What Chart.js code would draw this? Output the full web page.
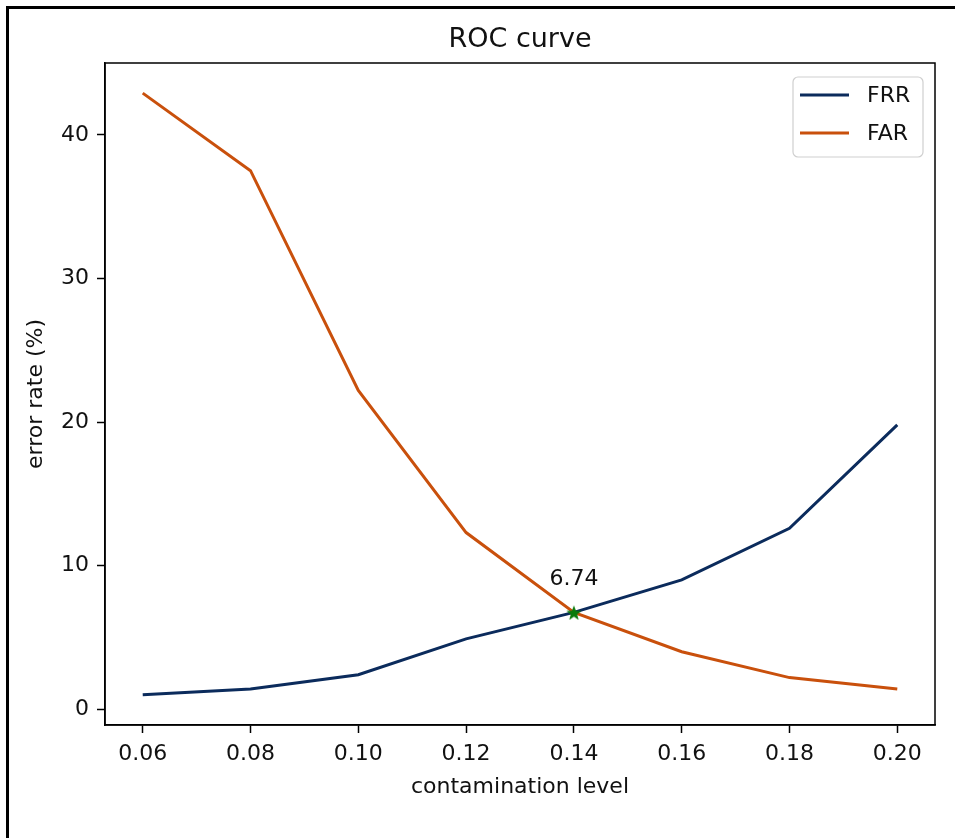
<!DOCTYPE html>
<html>
<head>
<meta charset="utf-8">
<script src="https://cdn.jsdelivr.net/npm/chart.js@4/dist/chart.umd.min.js"></script>
<style>
  body { margin: 0; background: #fff; }
  .wrap { position: relative; width: 955px; height: 838px; }
  .frame {
    position: absolute; left: 6px; top: 6px; right: 0; bottom: 0;
    border-top: 3px solid #000; border-left: 3px solid #000;
    pointer-events: none;
  }
</style>
</head>
<body>
<div class="wrap">
  <canvas id="rocChart" width="955" height="838"></canvas>
  <div class="frame"></div>
</div>
<script>
const levels = [0.06, 0.08, 0.10, 0.12, 0.14, 0.16, 0.18, 0.20];
const frr = [1.0, 1.4, 2.4, 4.9, 6.74, 9.0, 12.6, 19.8];
const far = [42.9, 37.5, 22.2, 12.3, 6.74, 4.0, 2.2, 1.4];
const eer = { x: 0.14, y: 6.74 };
const xTicks = [0.06, 0.08, 0.10, 0.12, 0.14, 0.16, 0.18, 0.20];
const yTicks = [0, 10, 20, 30, 40];

const FONT = "'DejaVu Sans', sans-serif";
const TXT = "#111";

// filled star for the crossing point
function makeStar(size, color) {
  const c = document.createElement("canvas");
  c.width = size;
  c.height = size;
  const g = c.getContext("2d");
  const r = size / 2, r2 = r * 0.42;
  g.beginPath();
  for (let i = 0; i < 10; i++) {
    const a = -Math.PI / 2 + (i * Math.PI) / 5;
    const rr = i % 2 === 0 ? r : r2;
    g.lineTo(r + rr * Math.cos(a), r + 1 + rr * Math.sin(a));
  }
  g.closePath();
  g.fillStyle = color;
  g.fill();
  return c;
}

const boxPlugin = {
  id: "plotbox",
  afterDraw(chart) {
    const { ctx, chartArea: { top, bottom, left, right } } = chart;
    ctx.save();
    ctx.strokeStyle = "#000";
    ctx.lineWidth = 1.5;
    ctx.strokeRect(left, top, right - left, bottom - top);

    // title, centred over the plot like matplotlib
    ctx.font = `27px ${FONT}`;
    ctx.fillStyle = TXT;
    ctx.textAlign = "center";
    ctx.textBaseline = "middle";
    ctx.fillText("ROC curve", (left + right) / 2, 40);

    // value label above the crossing point
    const px = chart.scales.x.getPixelForValue(eer.x);
    const py = chart.scales.y.getPixelForValue(eer.y);
    ctx.font = `22px ${FONT}`;
    ctx.fillText(eer.y.toFixed(2), px, py - 33);

    // legend
    const lx = 793, ly = 77, lw = 130, lh = 80;
    ctx.beginPath();
    ctx.roundRect(lx, ly, lw, lh, 5);
    ctx.fillStyle = "rgba(255,255,255,0.8)";
    ctx.fill();
    ctx.strokeStyle = "#cfcfcf";
    ctx.lineWidth = 1.2;
    ctx.stroke();
    chart.data.datasets.slice(0, 2).forEach((ds, i) => {
      const y = 95 + i * 38;
      ctx.beginPath();
      ctx.moveTo(800, y);
      ctx.lineTo(849, y);
      ctx.strokeStyle = ds.borderColor;
      ctx.lineWidth = 3;
      ctx.stroke();
      ctx.fillStyle = TXT;
      ctx.textAlign = "left";
      ctx.fillText(ds.label, 867, y + 1);
    });
    ctx.restore();
  },
};

const ctx = document.getElementById("rocChart").getContext("2d");
const rocChart = new Chart(ctx, {
  type: "line",
  data: {
    datasets: [
      {
        label: "FRR",
        data: levels.map((x, i) => ({ x: x, y: frr[i] })),
        borderColor: "#0b2b5c",
        borderWidth: 3,
        pointRadius: 0,
        tension: 0,
      },
      {
        label: "FAR",
        data: levels.map((x, i) => ({ x: x, y: far[i] })),
        borderColor: "#c9500c",
        borderWidth: 3,
        pointRadius: 0,
        tension: 0,
      },
      {
        label: "EER",
        data: [eer],
        showLine: false,
        order: -1,
        pointStyle: makeStar(16, "#0a7a0a"),
        pointRadius: 8,
      },
    ],
  },
  options: {
    responsive: false,
    animation: false,
    layout: { padding: { left: 0, right: 20, top: 63, bottom: 0 } },
    scales: {
      x: {
        type: "linear",
        min: 0.053,
        max: 0.207,
        afterFit(scale) { scale.height = 113; },
        afterBuildTicks(scale) { scale.ticks = xTicks.map((v) => ({ value: v })); },
        ticks: {
          color: TXT,
          font: { family: FONT, size: 22 },
          padding: 8,
          maxRotation: 0,
          callback: (v) => Number(v).toFixed(2),
        },
        grid: { drawOnChartArea: false, tickLength: 8, tickColor: "#000", tickWidth: 1.5 },
        border: { color: "#000", width: 1.5 },
        title: {
          display: true,
          text: "contamination level",
          color: TXT,
          font: { family: FONT, size: 22 },
          padding: { top: 0, bottom: 38 },
        },
      },
      y: {
        min: -1.1,
        max: 45.0,
        afterFit(scale) { scale.width = 105; },
        afterBuildTicks(scale) { scale.ticks = yTicks.map((v) => ({ value: v })); },
        ticks: {
          color: TXT,
          font: { family: FONT, size: 22 },
          padding: 8,
        },
        grid: { drawOnChartArea: false, tickLength: 8, tickColor: "#000", tickWidth: 1.5 },
        border: { color: "#000", width: 1.5 },
        title: {
          display: true,
          text: "error rate (%)",
          color: TXT,
          font: { family: FONT, size: 22 },
          padding: { top: 23, bottom: 0 },
        },
      },
    },
    plugins: {
      legend: { display: false },
      tooltip: { enabled: false },
      title: { display: false },
    },
  },
  plugins: [boxPlugin],
});
</script>
</body>
</html>
